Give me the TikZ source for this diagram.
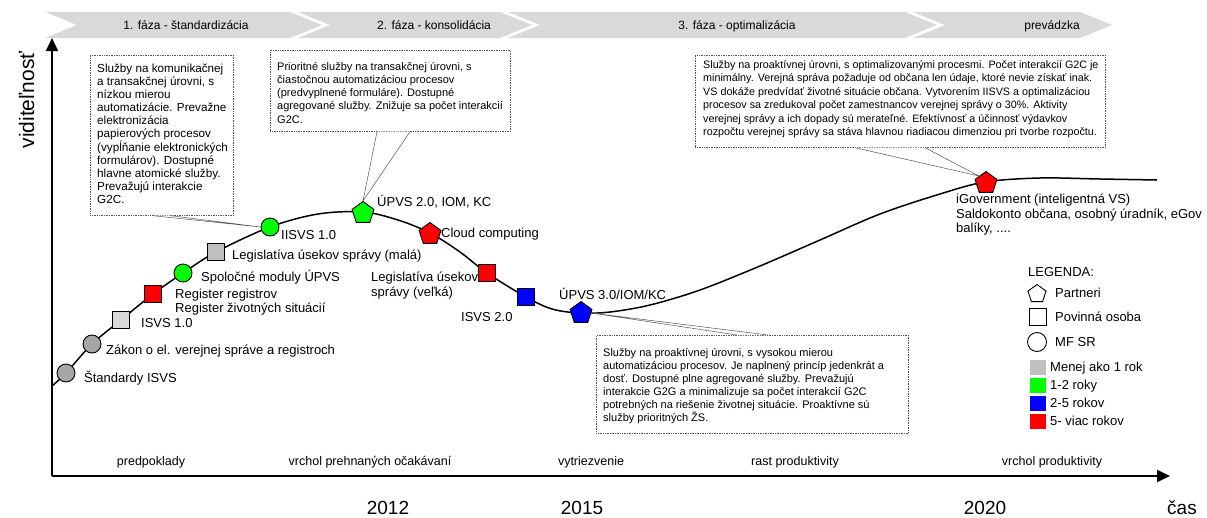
\documentclass[tikz,border=0pt]{standalone}
\usepackage{fontspec}
\setmainfont{Liberation Sans}
\usetikzlibrary{shapes.geometric,arrows.meta,calc}

\definecolor{band}{HTML}{D9D9D9}
\definecolor{grA}{HTML}{A6A6A6}
\definecolor{grB}{HTML}{D9D9D9}
\definecolor{grC}{HTML}{BFBFBF}
\definecolor{swgray}{HTML}{C0C0C0}
\definecolor{vgreen}{HTML}{00FF00}
\definecolor{vred}{HTML}{FF0000}
\definecolor{vblue}{HTML}{0000FF}
\definecolor{boxline}{HTML}{555555}

\newcommand{\fsz}[2]{\fontsize{#1}{#2}\selectfont}

\begin{document}
\begin{tikzpicture}[x=1pt,y=-1pt,
  phasetxt/.style={anchor=base,inner sep=0pt,font=\fsz{12}{14}},
  circ/.style={circle,draw=black,line width=0.9pt,minimum size=18pt,inner sep=0pt},
  sq/.style={rectangle,draw=black,line width=0.9pt,minimum size=17pt,inner sep=0pt},
  pent/.style={regular polygon,regular polygon sides=5,draw=black,line width=0.9pt,minimum size=23pt,inner sep=0pt},
  lbl/.style={anchor=base west,inner sep=0pt,font=\fsz{13}{14.3}},
  lbl2/.style={anchor=north west,inner sep=0pt,align=left,font=\fsz{13}{14.3}},
  callout/.style={draw=boxline,densely dotted,line width=0.7pt,fill=white,anchor=north west,inner sep=0pt},
  calltxt/.style={anchor=north west,inner sep=0pt,align=left},
  tail/.style={draw=boxline,line width=0.5pt,fill=white},
  phaselbl/.style={anchor=base,inner sep=0pt,font=\fsz{12.5}{14}},
  big/.style={anchor=base,inner sep=0pt,font=\fsz{19}{22}},
  swatch/.style={rectangle,minimum width=16pt,minimum height=15pt,inner sep=0pt,draw=none},
  axis/.style={line width=1.8pt,-{Triangle[length=13pt,width=12pt]}}
]
\useasboundingbox (0,0) rectangle (1207,517);

% phase banner
\fill[band] (45,12) -- (290,12) -- (322,25) -- (290,38) -- (45,38) -- (77,25) -- cycle;
\fill[band] (298,12) -- (500,12) -- (532,25) -- (500,38) -- (298,38) -- (330,25) -- cycle;
\fill[band] (508,12) -- (905,12) -- (937,25) -- (905,38) -- (508,38) -- (540,25) -- cycle;
\fill[band] (913,12) -- (1080,12) -- (1112,25) -- (1080,38) -- (913,38) -- (945,25) -- cycle;
\node[phasetxt] (ph1) at (186,29.3) {1. fáza - štandardizácia};
\node[phasetxt] (ph2) at (434,29.3) {2. fáza - konsolidácia};
\node[phasetxt] (ph3) at (737,29.3) {3. fáza - optimalizácia};
\node[phasetxt] (ph4) at (1052,29.3) {prevádzka};

% axes
\coordinate (origin) at (52,476);
\coordinate (ytop) at (52,38);
\coordinate (xend) at (1170,476);
\draw[axis] (origin) -- (ytop);
\draw[axis] (origin) -- (xend);
\node[rotate=90,anchor=base,inner sep=0pt,font=\fsz{21}{24}] (ylab) at (34,100) {viditeľnosť};
\node[big] (xlab) at (1182,514.5) {čas};
\node[big] (y2012) at (388,514.5) {2012};
\node[big] (y2015) at (582,514.5) {2015};
\node[big] (y2020) at (985,514.5) {2020};

% stages along the time axis
\node[phaselbl] (s1) at (151,465.5) {predpoklady};
\node[phaselbl] (s2) at (370,465.5) {vrchol prehnaných očakávaní};
\node[phaselbl] (s3) at (591,465.5) {vytriezvenie};
\node[phaselbl] (s4) at (795,465.5) {rast produktivity};
\node[phaselbl] (s5) at (1052,465.5) {vrchol produktivity};

% hype curve
\draw[line width=1.5pt] plot[smooth,tension=0.55] coordinates {
  (52,386) (66,373) (92,344) (121,320) (153,294) (183,273) (216,252)
  (270,227) (318,214) (363,212) (398,220) (430,233) (460,252) (487,273)
  (526,297) (552,309) (580,313) (610,312) (650,305) (700,290) (760,266)
  (820,240) (880,214) (940,194) (985,182) (1040,178) (1100,179) (1157,180)};

% milestone labels
\node[lbl] (l1) at (84,382.5) {Štandardy ISVS};
\node[lbl] (l2) at (106,354.5) {Zákon o el. verejnej správe a registroch};
\node[lbl] (l3) at (141,327.5) {ISVS 1.0};
\node[lbl2] (l4) at (175,289) {Register registrov\\Register životných situácií};
\node[lbl] (l5) at (201,281.5) {Spoločné moduly ÚPVS};
\node[lbl] (l6) at (232,259.5) {Legislatíva úsekov správy (malá)};
\node[lbl] (l7) at (281,239.5) {IISVS 1.0};
\node[lbl] (l8) at (377,206.5) {ÚPVS 2.0, IOM, KC};
\node[lbl] (l9) at (441,237.5) {Cloud computing};
\node[lbl2] (l10) at (371,272) {Legislatíva úsekov\\správy (veľká)};
\node[lbl] (l11) at (461,321.5) {ISVS 2.0};
\node[lbl] (l12) at (559,299.5) {ÚPVS 3.0/IOM/KC};
\node[lbl2] (l13) at (956,194) {iGovernment (inteligentná VS)\\Saldokonto občana, osobný úradník, eGov\\balíky, ....};

% milestones on the curve
\node[circ,fill=grA] (m1) at (66,373) {};
\node[circ,fill=grA] (m2) at (92,344) {};
\node[sq,fill=grB] (m3) at (121,320) {};
\node[sq,fill=vred] (m4) at (153,294) {};
\node[circ,fill=vgreen] (m5) at (183,273) {};
\node[sq,fill=grC] (m6) at (216,252) {};
\node[circ,fill=vgreen] (m7) at (270,227) {};
\node[pent,fill=vgreen] (m8) at (363,213) {};
\node[pent,fill=vred] (m9) at (430,234) {};
\node[sq,fill=vred] (m10) at (487,273) {};
\node[sq,fill=vblue] (m11) at (526,297) {};
\node[pent,fill=vblue] (m12) at (581,313) {};
\node[pent,fill=vred] (m13) at (986,183) {};

% callouts
\node[callout,minimum width=143pt,minimum height=160pt] (c1) at (90,55) {};
\node[callout,minimum width=240pt,minimum height=81pt] (c2) at (270,50) {};
\node[callout,minimum width=410pt,minimum height=92pt] (c3) at (695,55) {};
\node[callout,minimum width=312pt,minimum height=98pt] (c4) at (596,335) {};

\coordinate (c1a) at ($(c1.south west)+(63,0)$);
\coordinate (c1b) at ($(c1.south west)+(81,0)$);
\coordinate (c2a) at ($(c2.south west)+(107,0)$);
\coordinate (c2b) at ($(c2.south west)+(140,0)$);
\coordinate (c3a) at ($(c3.south west)+(160,0)$);
\coordinate (c3b) at ($(c3.south west)+(230,0)$);
\coordinate (c4a) at ($(c4.north west)+(141,0)$);
\coordinate (c4b) at ($(c4.north west)+(172,0)$);
\filldraw[tail] (c1a) -- (m7.west) -- (c1b);
\filldraw[tail] (c2a) -- (m8.north) -- (c2b);
\filldraw[tail] (c3a) -- (m13.north west) -- (c3b);
\filldraw[tail] (c4a) -- (m12.east) -- (c4b);

\node[calltxt,font=\fsz{11.7}{13}] (t1) at (97,63.7) {Služby na komunikačnej\\a transakčnej úrovni, s\\nízkou mierou\\automatizácie. Prevažne\\elektronizácia\\papierových procesov\\(vypĺňanie elektronických\\formulárov). Dostupné\\hlavne atomické služby.\\Prevažujú interakcie\\G2C.};
\node[calltxt,font=\fsz{11}{13.2}] (t2) at (277,62) {Prioritné služby na transakčnej úrovni, s\\čiastočnou automatizáciou procesov\\(predvyplnené formuláre). Dostupné\\agregované služby. Znižuje sa počet interakcií\\G2C.};
\node[calltxt,font=\fsz{10.75}{13.5}] (t3) at (703,60) {Služby na proaktívnej úrovni, s optimalizovanými procesmi. Počet interakcií G2C je\\minimálny. Verejná správa požaduje od občana len údaje, ktoré nevie získať inak.\\VS dokáže predvídať životné situácie občana. Vytvorením IISVS a optimalizáciou\\procesov sa zredukoval počet zamestnancov verejnej správy o 30\%. Aktivity\\verejnej správy a ich dopady sú merateľné. Efektívnosť a účinnosť výdavkov\\rozpočtu verejnej správy sa stáva hlavnou riadiacou dimenziou pri tvorbe rozpočtu.};
\node[calltxt,font=\fsz{11}{13}] (t4) at (603,348) {Služby na proaktívnej úrovni, s vysokou mierou\\automatizáciou procesov. Je naplnený princíp jedenkrát a\\dosť. Dostupné plne agregované služby. Prevažujú\\interakcie G2G a minimalizuje sa počet interakcií G2C\\potrebných na riešenie životnej situácie. Proaktívne sú\\služby prioritných ŽS.};

% legend
\node[lbl] (lg) at (1028,276.5) {LEGENDA:};
\node[pent,fill=white,minimum size=19pt] (lgp) at (1037,294) {};
\node[lbl] (lgpt) at (1055,297.5) {Partneri};
\node[sq,fill=white] (lgs) at (1038,317) {};
\node[lbl] (lgst) at (1055,321.5) {Povinná osoba};
\node[circ,fill=white,minimum size=19pt] (lgc) at (1037,342) {};
\node[lbl] (lgct) at (1055,346.5) {MF SR};
\node[swatch,fill=swgray] (sw1) at (1038,367) {};
\node[lbl] (sw1t) at (1050,371.5) {Menej ako 1 rok};
\node[swatch,fill=vgreen] (sw2) at (1038,385) {};
\node[lbl] (sw2t) at (1050,389.5) {1-2 roky};
\node[swatch,fill=vblue] (sw3) at (1038,403) {};
\node[lbl] (sw3t) at (1050,407.5) {2-5 rokov};
\node[swatch,fill=vred] (sw4) at (1038,421) {};
\node[lbl] (sw4t) at (1050,425.5) {5- viac rokov};
\end{tikzpicture}
\end{document}
